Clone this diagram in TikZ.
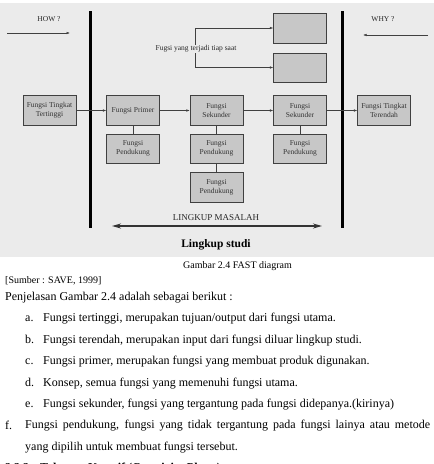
\documentclass[tikz,border=0pt]{standalone}
\usepackage{fontspec}
\setmainfont{Liberation Serif}
\usetikzlibrary{arrows.meta,calc,positioning}

\begin{document}
\begin{tikzpicture}[x=1pt,y=-1pt]
\tikzstyle{fbox} = [draw=black!75, fill=black!22, text=black!80, minimum width=53pt, minimum height=30pt, inner sep=1pt, align=center, font=\fontsize{7.5}{9}\selectfont]
\tikzstyle{wall} = [line width=3pt]
\tikzstyle{flow} = [draw=black!75, line width=0.5pt, -{Latex[length=3.5pt,width=2.5pt]}]
\tikzstyle{tag} = [font=\fontsize{7.5}{9}\selectfont, text=black!85]
\tikzstyle{body} = [anchor=base west, inner sep=0pt, font=\fontsize{12}{14}\selectfont]
\useasboundingbox (0,0) rectangle (434,464);
\fill[black!8] (0,3) rectangle (434,257);
\draw[wall] (90,11) -- (90,228);
\draw[wall] (342,11) -- (342,228);
\node[tag] (how) at (49,19) {HOW ?};
\node[tag] (why) at (383,19) {WHY ?};
\coordinate (hs) at (7,33);
\coordinate (he) at (70,33);
\coordinate (ws) at (428,35);
\coordinate (we) at (363,35);
\draw[flow] (hs) -- (he);
\draw[flow] (ws) -- (we);
\node[fbox] (ta) at (300,28) {};
\node[fbox, minimum height=29pt] (tb) at (300,67.5) {};
\node[fbox] (high) at (49.5,110.5) {Fungsi Tingkat\\Tertinggi};
\node[fbox] (prim) at (133,110.5) {Fungsi Primer};
\node[fbox] (sek1) at (216.5,110.5) {Fungsi\\Sekunder};
\node[fbox] (sek2) at (300,110.5) {Fungsi\\Sekunder};
\node[fbox] (low) at (384,110.5) {Fungsi Tingkat\\Terendah};
\node[fbox, minimum height=29pt] (pd1) at (133,148.5) {Fungsi\\Pendukung};
\node[fbox, minimum height=29pt] (pd2) at (216.5,148.5) {Fungsi\\Pendukung};
\node[fbox, minimum height=29pt] (pd3) at (300,148.5) {Fungsi\\Pendukung};
\node[fbox] (pd4) at (216.5,187) {Fungsi\\Pendukung};
\draw[flow] (high) -- (prim);
\draw[flow] (prim) -- (sek1);
\draw[flow] (sek1) -- (sek2);
\draw[flow] (sek2) -- (low);
\draw[black!75, line width=0.5pt] (prim) -- (pd1);
\draw[black!75, line width=0.5pt] (sek1) -- (pd2);
\draw[black!75, line width=0.5pt] (sek2) -- (pd3);
\draw[black!75, line width=0.5pt] (pd2) -- (pd4);
\coordinate (fa) at (195,28);
\coordinate (fb) at (195,67.5);
\draw[black!75, line width=0.5pt] (fa) -- (fb);
\draw[flow] (fa) -- (ta);
\draw[flow] (fb) -- (tb);
\node[tag, fill=black!8, inner sep=1pt] (tiap) at (196,49) {Fugsi yang terjadi tiap saat};
\node[font=\fontsize{9}{10}\selectfont, text=black!85] (lm) at (216,218) {LINGKUP MASALAH};
\coordinate (ml) at (112,226);
\coordinate (mr) at (322,226);
\draw[{Stealth[length=9pt,width=5pt]}-{Stealth[length=9pt,width=5pt]}, line width=1.3pt, black!80] (ml) -- (mr);
\node[font=\bfseries\fontsize{11.5}{13}\selectfont] (ls) at (216,245) {Lingkup studi};
\node[body, font=\fontsize{10}{12}\selectfont] (cap) at (183,268) {Gambar 2.4 FAST diagram};
\node[body, font=\fontsize{10}{12}\selectfont] (src) at (5,283) {[Sumber : SAVE, 1999]};
\node[body] (intro) at (5,300) {Penjelasan Gambar 2.4 adalah sebagai berikut :};
\node[body] (ia) at (25,321) {\makebox[18pt][l]{a.}Fungsi tertinggi, merupakan tujuan/output dari fungsi utama.};
\node[body] (ib) at (25,343) {\makebox[18pt][l]{b.}Fungsi terendah, merupakan input dari fungsi diluar lingkup studi.};
\node[body] (ic) at (25,364) {\makebox[18pt][l]{c.}Fungsi primer, merupakan fungsi yang membuat produk digunakan.};
\node[body] (id) at (25,386) {\makebox[18pt][l]{d.}Konsep, semua fungsi yang memenuhi fungsi utama.};
\node[body] (ie) at (25,407) {\makebox[18pt][l]{e.}Fungsi sekunder, fungsi yang tergantung pada fungsi didepanya.(kirinya)};
\node[body] (fl) at (5,429) {f.};
\node[body, anchor=north west, text width=405pt, align=justify, font=\fontsize{12}{21.5}\selectfont] (if) at (25,420) {Fungsi pendukung, fungsi yang tidak tergantung pada fungsi lainya atau metode\linebreak yang dipilih untuk membuat fungsi tersebut.};
\node[body, font=\bfseries\fontsize{12}{14}\selectfont] (sub) at (5,471) {2.3.3.\hspace{8pt}Tahapan Kreatif (Creativity Phase)};
\end{tikzpicture}
\end{document}
